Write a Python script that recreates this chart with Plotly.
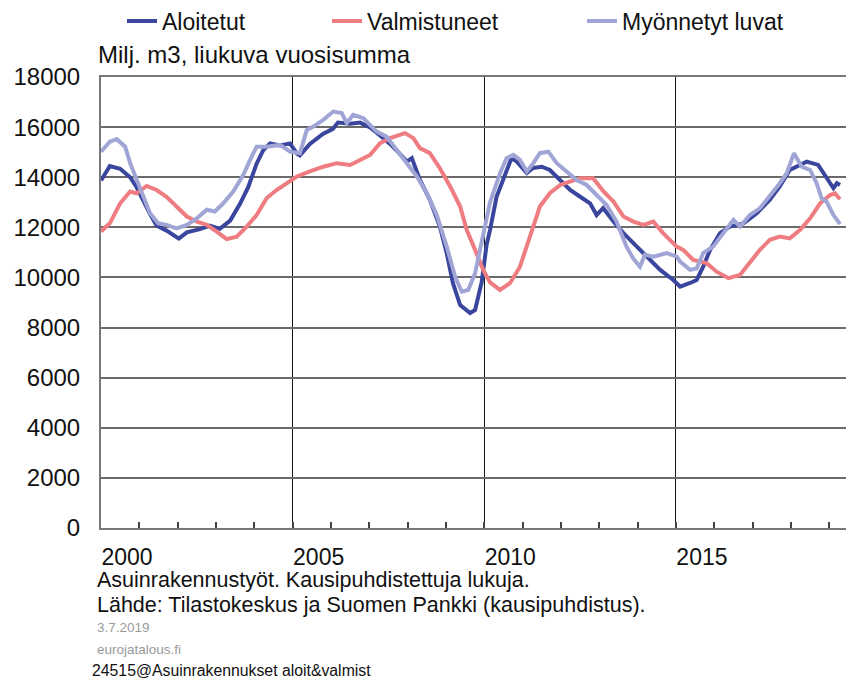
import plotly.graph_objects as go

# ---- data (decimal years, values in milj. m3) ----
aloitetut_t = [0.00, 0.23, 0.50, 0.76, 0.93, 1.10, 1.28, 1.45, 1.71, 2.03, 2.24, 2.58, 2.84, 3.10, 3.37,
               3.63, 3.84, 4.06, 4.23, 4.41, 4.67, 4.93, 5.11, 5.19, 5.45, 5.79, 6.05, 6.18, 6.50, 6.76,
               7.02, 7.28, 7.54, 7.80, 7.98, 8.11, 8.32, 8.58, 8.84, 9.02, 9.18, 9.37, 9.63, 9.76, 9.93,
               10.06, 10.15, 10.32, 10.58, 10.71, 10.85, 11.11, 11.27, 11.50, 11.71, 11.98, 12.24, 12.50,
               12.76, 12.93, 13.10, 13.37, 13.63, 13.98, 14.24, 14.59, 14.93, 15.11, 15.37, 15.54, 15.71,
               15.89, 16.15, 16.41, 16.76, 17.11, 17.45, 17.71, 17.97, 18.15, 18.41, 18.71, 18.93, 19.11,
               19.20, 19.28]
aloitetut_v = [13870, 14450, 14340, 14000, 13600, 13070, 12530, 12070, 11870, 11550, 11800, 11930, 12070, 11940, 12270,
               12950, 13600, 14540, 15070, 15350, 15270, 15350, 14950, 14870, 15330, 15730, 15930, 16180, 16130, 16180,
               15990, 15670, 15330, 14930, 14620, 14760, 13890, 13100, 12030, 10970, 9780, 8900, 8580, 8700, 9800,
               11300, 11900, 13220, 14290, 14770, 14620, 14170, 14370, 14420, 14290, 13890, 13490, 13220,
               12960, 12490, 12770, 12230, 11770, 11230, 10830, 10300, 9900, 9630, 9780, 9900, 10430,
               11100, 11770, 12030, 12160, 12560, 13100, 13630, 14290, 14420, 14620, 14490, 14000, 13560,
               13760, 13690]

valmistuneet_t = [0.00, 0.23, 0.50, 0.76, 0.93, 1.19, 1.45, 1.71, 1.97, 2.24, 2.50, 2.76, 3.02, 3.28, 3.54,
                  3.80, 4.06, 4.32, 4.58, 4.84, 5.11, 5.45, 5.80, 6.15, 6.50, 6.76, 7.02, 7.28, 7.54, 7.93,
                  8.15, 8.32, 8.58, 8.84, 9.11, 9.37, 9.54, 9.76, 9.97, 10.15, 10.41, 10.67, 10.93, 11.19,
                  11.45, 11.71, 11.98, 12.24, 12.50, 12.84, 13.11, 13.37, 13.63, 13.89, 14.15, 14.41, 14.67,
                  15.02, 15.19, 15.45, 15.80, 16.06, 16.37, 16.67, 16.93, 17.19, 17.45, 17.71, 17.97, 18.24,
                  18.50, 18.76, 19.02, 19.15, 19.28]
valmistuneet_v = [11830, 12160, 12960, 13430, 13360, 13650, 13490, 13220, 12830, 12430, 12230, 12100, 11830, 11530, 11630,
                  12030, 12490, 13160, 13490, 13760, 14030, 14230, 14420, 14560, 14490, 14690, 14890, 15360, 15560, 15760,
                  15560, 15160, 14960, 14360, 13630, 12830, 11900, 11100, 10300, 9800, 9500, 9770, 10430, 11630,
                  12830, 13360, 13690, 13830, 13960, 13960, 13430, 13030, 12430, 12230, 12100, 12230, 11760,
                  11230, 11100, 10700, 10570, 10230, 9970, 10100, 10570, 11100, 11500, 11630, 11560, 11900,
                  12360, 12960, 13290, 13360, 13120]

luvat_t = [0.00, 0.23, 0.41, 0.63, 0.76, 0.93, 1.10, 1.28, 1.49, 1.71, 1.97, 2.24, 2.50, 2.76, 2.97,
           3.19, 3.45, 3.71, 3.93, 4.06, 4.32, 4.67, 4.93, 5.19, 5.37, 5.54, 5.80, 6.06, 6.28, 6.41,
           6.58, 6.84, 7.02, 7.19, 7.45, 7.71, 7.98, 8.24, 8.50, 8.76, 9.02, 9.24, 9.41, 9.58, 9.76,
           9.89, 9.97, 10.15, 10.41, 10.58, 10.76, 10.93, 11.11, 11.28, 11.45, 11.67, 11.89, 12.15,
           12.41, 12.67, 12.93, 13.19, 13.45, 13.71, 13.88, 14.06, 14.19, 14.41, 14.76, 15.02, 15.11,
           15.37, 15.54, 15.71, 15.97, 16.24, 16.50, 16.67, 16.93, 17.19, 17.45, 17.71, 17.89, 18.08,
           18.28, 18.50, 18.67, 18.80, 18.93, 19.11, 19.28]
luvat_v = [15020, 15420, 15520, 15220, 14560, 13890, 13220, 12560, 12160, 12100, 11960, 12100, 12360, 12700, 12630,
           12960, 13430, 14090, 14820, 15220, 15220, 15290, 15020, 14960, 15890, 16020, 16290, 16620, 16560, 16160,
           16490, 16360, 16090, 15820, 15620, 15090, 14560, 14030, 13360, 12490, 11230, 10030, 9430, 9500, 10170,
           11100, 11760, 13000, 14160, 14760, 14890, 14690, 14230, 14560, 14960, 15020, 14560, 14230,
           13890, 13690, 13290, 12890, 12230, 11230, 10770, 10430, 10900, 10830, 10970, 10830, 10630,
           10300, 10360, 10970, 11230, 11760, 12300, 12030, 12490, 12760, 13230, 13760, 14160, 14960,
           14420, 14290, 13760, 13160, 13030, 12490, 12130]

year_ticks = [2000, 2005, 2010, 2015]
year_labels = ["2000", "2005", "2010", "2015"]
base_year = 2000

series = [
    ("Aloitetut", aloitetut_t, aloitetut_v, "rgb(58,70,158)", "legend"),
    ("Valmistuneet", valmistuneet_t, valmistuneet_v, "rgb(238,124,128)", "legend2"),
    ("Myönnetyt luvat", luvat_t, luvat_v, "rgb(160,165,214)", "legend3"),
]

FONT = "Liberation Sans, Arial, sans-serif"

fig = go.Figure()
for name, t, v, col, lg in series:
    fig.add_trace(go.Scatter(
        x=[base_year + a for a in t], y=v, mode="lines", name=name,
        line=dict(color=col, width=4), legend=lg, hoverinfo="skip"))

# The page body has an 8px default margin, so the figure is drawn 8px in from
# the window corner; sizes below compensate so the screen layout matches.
OFF = 8
W, H = 854 - OFF, 681 - OFF
L = 101 - OFF
T = 77 - OFF
B = H - (528 - OFF)
R = 0
plot_w = W - L - R
plot_h = H - T - B
px_per_year = 38.33
x_end = base_year + plot_w / px_per_year

def px_x(p):  # screen pixel -> paper x
    return (p - OFF - L) / plot_w

def px_y(p):  # screen pixel -> paper y
    return (H - B - (p - OFF)) / plot_h

leg_common = dict(orientation="h", yanchor="middle", xanchor="left",
                  font=dict(family=FONT, size=23, color="#111"),
                  bgcolor="rgba(0,0,0,0)", borderwidth=0, itemwidth=30)

fig.update_layout(
    width=W, height=H,
    margin=dict(l=L, r=R, t=T, b=B, pad=0, autoexpand=False),
    paper_bgcolor="white", plot_bgcolor="white",
    font=dict(family=FONT, size=23, color="#111"),
    showlegend=True,
    legend=dict(x=px_x(122), y=px_y(21), **leg_common),
    legend2=dict(x=px_x(327), y=px_y(21), **leg_common),
    legend3=dict(x=px_x(582), y=px_y(21), **leg_common),
    xaxis=dict(
        range=[base_year, x_end], tickmode="array", tickvals=year_ticks, ticktext=year_labels,
        ticks="inside", ticklen=6, tickwidth=1.5, tickcolor="#444",
        ticklabelshift=26, ticklabelstandoff=7,
        tickfont=dict(family=FONT, size=23, color="#111"),
        showgrid=True, gridcolor="#111", gridwidth=1.3,
        showline=True, linecolor="#777", linewidth=2, mirror=True,
        minor=dict(dtick=1, tick0=base_year, ticks="inside", ticklen=6, tickwidth=1.5,
                   tickcolor="#444", showgrid=False),
        zeroline=False, fixedrange=True, automargin=False,
    ),
    yaxis=dict(
        range=[0, 18000], dtick=2000, tick0=0, tickformat="d",
        ticks="", ticklabelstandoff=14,
        tickfont=dict(family=FONT, size=24, color="#111"),
        showgrid=True, gridcolor="#6a6a6a", gridwidth=1.8,
        showline=True, linecolor="#777", linewidth=2, mirror=False,
        zeroline=True, zerolinecolor="#222", zerolinewidth=2, fixedrange=True,
        automargin=False,
    ),
)

annots = [
    ("Milj. m3, liukuva vuosisumma", 96, 55, 24, "#111"),
    ("Asuinrakennustyöt. Kausipuhdistettuja lukuja.", 95, 580, 21.5, "#111"),
    ("Lähde: Tilastokeskus ja Suomen Pankki (kausipuhdistus).", 95, 605, 21.5, "#111"),
    ("3.7.2019", 95, 627, 13.5, "#9a9a9a"),
    ("eurojatalous.fi", 95, 649, 13.5, "#9a9a9a"),
    ("24515@Asuinrakennukset aloit&valmist", 90, 670, 15.8, "#111"),
]
for text, x, y, size, col in annots:
    fig.add_annotation(text=text, xref="paper", yref="paper", x=px_x(x), y=px_y(y),
                       xanchor="left", yanchor="middle", showarrow=False,
                       font=dict(family=FONT, size=size, color=col))

fig.write_html("out.html", config={"displayModeBar": False})
